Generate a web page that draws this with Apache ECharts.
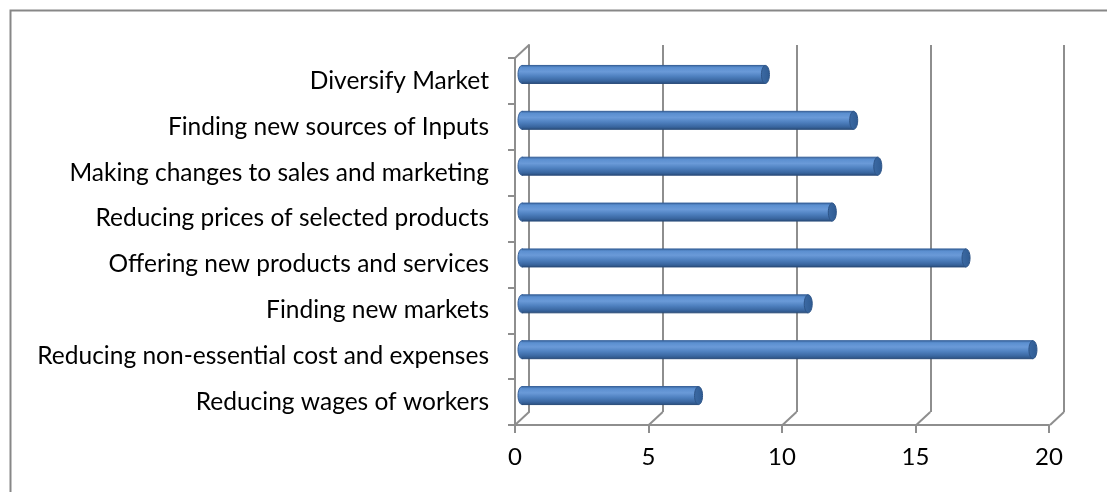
<!DOCTYPE html>
<html>
<head>
<meta charset="utf-8">
<script src="https://cdn.jsdelivr.net/npm/echarts@6/dist/echarts.min.js"></script>
<style>
html,body{margin:0;padding:0;background:#fff;}
#chart{width:1107px;height:492px;}
</style>
</head>
<body>
<div id="chart"></div>
<script>
// Categories listed bottom-to-top (ECharts category axis order)
const categories = [
  'Reducing wages of workers',
  'Reducing non-essential cost and expenses',
  'Finding new markets',
  'Offering new products and services',
  'Reducing prices of selected products',
  'Making changes to sales and marketing',
  'Finding new sources of Inputs',
  'Diversify Market'
];
const values = [6.6, 19.1, 10.7, 16.6, 11.6, 13.3, 12.4, 9.1];
const xTicks = [0, 5, 10, 15, 20];

const GRAY = '#8e8e8e';
const FONT = 'Lato, Carlito, Calibri, sans-serif';

const chart = echarts.init(document.getElementById('chart'), null, {renderer: 'canvas'});

const barData = values.map((v, i) => [v, i]);
const floorData = xTicks.map(v => [v]);

const option = {
  animation: false,
  backgroundColor: '#fff',
  graphic: [{
    type: 'rect', left: 8, top: 8,
    shape: {width: 1120, height: 500},
    style: {fill: 'none', stroke: '#878787', lineWidth: 2}
  }],
  grid: [
    {left: 515, top: 58, width: 534, height: 367},     // front
    {left: 529, top: 45, width: 535, height: 367},     // back wall
    {left: 522, top: 51.5, width: 535, height: 367}    // mid depth (bars)
  ],
  xAxis: [
    {
      gridIndex: 0, type: 'value', min: 0, max: 20, interval: 5,
      axisLine: {show: true, lineStyle: {color: GRAY, width: 2}},
      axisTick: {show: true, length: 8, lineStyle: {color: GRAY, width: 2}},
      axisLabel: {color: '#000', fontSize: 24, fontFamily: FONT, margin: 20},
      splitLine: {show: false}
    },
    {
      gridIndex: 1, type: 'value', min: 0, max: 20, interval: 5,
      axisLine: {show: false}, axisTick: {show: false}, axisLabel: {show: false},
      splitLine: {show: true, lineStyle: {color: GRAY, width: 2}}
    },
    {
      gridIndex: 2, type: 'value', min: 0, max: 20, interval: 5, show: false
    }
  ],
  yAxis: [
    {
      gridIndex: 0, type: 'category', data: categories,
      axisLine: {show: true, lineStyle: {color: GRAY, width: 2}},
      axisTick: {show: true, length: 7, lineStyle: {color: GRAY, width: 2}},
      axisLabel: {color: '#000', fontSize: 24.5, fontFamily: FONT, margin: 26},
      splitLine: {show: false}
    },
    {
      gridIndex: 1, type: 'category', data: categories,
      axisLine: {show: true, lineStyle: {color: GRAY, width: 2}},
      axisTick: {show: false}, axisLabel: {show: false}
    },
    {
      gridIndex: 2, type: 'category', data: categories, show: false
    }
  ],
  series: [
    {
      // floor / wall connecting diagonals
      type: 'custom', xAxisIndex: 2, yAxisIndex: 2, silent: true, z: 3,
      data: floorData,
      renderItem: function (params, api) {
        const v = api.value(0);
        const band = api.size([0, 1])[1];
        const p0 = api.coord([v, 0]);
        const yb = p0[1] + band / 2;
        const children = [{
          type: 'line',
          shape: {x1: p0[0] - 7, y1: yb + 6.5, x2: p0[0] + 7, y2: yb - 6.5},
          style: {stroke: GRAY, lineWidth: 2}
        }];
        if (v === 0) {
          const pt = api.coord([0, categories.length - 1]);
          const yt = pt[1] - band / 2;
          children.push({
            type: 'line',
            shape: {x1: pt[0] - 7, y1: yt + 6.5, x2: pt[0] + 7, y2: yt - 6.5},
            style: {stroke: GRAY, lineWidth: 2}
          });
        }
        return {type: 'group', children: children};
      }
    },
    {
      // cylinder bars
      type: 'custom', xAxisIndex: 2, yAxisIndex: 2, z: 5,
      data: barData,
      renderItem: function (params, api) {
        const v = api.value(0), c = api.value(1);
        const s = api.coord([0, c]);
        const e = api.coord([v, c]);
        const h = 18, rx = 4;
        const y0 = s[1] - h / 2;
        const grad = new echarts.graphic.LinearGradient(0, 0, 0, 1, [
          {offset: 0, color: '#3d6aa3'},
          {offset: 0.12, color: '#5b8fd0'},
          {offset: 0.35, color: '#6a9ad8'},
          {offset: 0.6, color: '#4f81c0'},
          {offset: 0.85, color: '#3a67a1'},
          {offset: 1, color: '#2c5181'}
        ]);
        const capGrad = new echarts.graphic.LinearGradient(0, 0, 1, 0, [
          {offset: 0, color: '#3c6aa4'},
          {offset: 1, color: '#2f5b92'}
        ]);
        return {
          type: 'group',
          children: [
            {type: 'ellipse', shape: {cx: s[0], cy: s[1], rx: rx, ry: h / 2},
             style: {fill: grad, stroke: '#36609a', lineWidth: 1}},
            {type: 'rect', shape: {x: s[0], y: y0, width: e[0] - s[0], height: h},
             style: {fill: grad}},
            {type: 'line', shape: {x1: s[0], y1: y0, x2: e[0], y2: y0},
             style: {stroke: '#36609a', lineWidth: 1}},
            {type: 'line', shape: {x1: s[0], y1: y0 + h, x2: e[0], y2: y0 + h},
             style: {stroke: '#2a4c7a', lineWidth: 1}},
            {type: 'ellipse', shape: {cx: e[0], cy: e[1], rx: rx, ry: h / 2},
             style: {fill: capGrad, stroke: '#2d5487', lineWidth: 1}}
          ]
        };
      }
    }
  ]
};

chart.setOption(option);
</script>
</body>
</html>
